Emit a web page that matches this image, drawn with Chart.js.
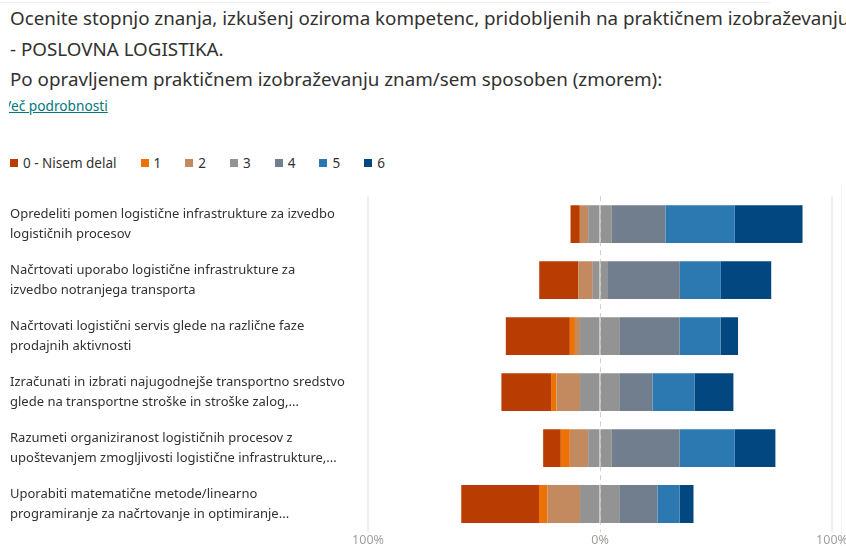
<!DOCTYPE html>
<html>
<head>
<meta charset="utf-8">
<script src="https://cdn.jsdelivr.net/npm/chart.js@4.4.1/dist/chart.umd.min.js"></script>
<style>
  html, body { margin: 0; padding: 0; width: 846px; height: 546px; overflow: hidden; background: #fff;
    font-family: "Noto Sans", sans-serif; color: #323130; }
  #topline { position: absolute; left: 0; top: 2px; width: 770px; height: 1px; background: #f0f0f0; }
  #title { position: absolute; left: 10px; top: 3px; white-space: nowrap; font-size: 18.8px; line-height: 30.5px; }
  #moreclip { position: absolute; left: 9px; top: 96px; width: 200px; height: 22px; overflow: hidden; }
  #more { position: absolute; left: -6px; top: 1px; font-size: 13.7px; line-height: 18px; color: #03787c;
    text-decoration: underline; white-space: nowrap; }
  #legend { position: absolute; left: 10px; top: 153px; display: flex; font-size: 13.5px; line-height: 20px; white-space: nowrap; }
  #legend .item { display: flex; align-items: center; margin-right: 24px; }
  #legend .sq { width: 8px; height: 8px; margin-right: 5px; }
  #edge { position: absolute; left: 841px; top: 185px; width: 1px; height: 361px; background: #f2f2f2; }
  #wrap { position: absolute; left: 0; top: 176px; width: 880px; height: 379px; }
</style>
</head>
<body>
<div id="topline"></div>
<div id="title">Ocenite stopnjo znanja, izkušenj oziroma kompetenc, pridobljenih na praktičnem izobraževanju<br>- POSLOVNA LOGISTIKA.<br>Po opravljenem praktičnem izobraževanju znam/sem sposoben (zmorem):</div>
<div id="moreclip"><div id="more">Več podrobnosti</div></div>
<div id="legend"></div>
<div id="edge"></div>
<div id="wrap"><canvas id="chart"></canvas></div>
<script>
// Categories (statements) and answer levels
const categories = [
  ["Opredeliti pomen logistične infrastrukture za izvedbo", "logističnih procesov"],
  ["Načrtovati uporabo logistične infrastrukture za", "izvedbo notranjega transporta"],
  ["Načrtovati logistični servis glede na različne faze", "prodajnih aktivnosti"],
  ["Izračunati in izbrati najugodnejše transportno sredstvo", "glede na transportne stroške in stroške zalog,..."],
  ["Razumeti organiziranost logističnih procesov z", "upoštevanjem zmogljivosti logistične infrastrukture,..."],
  ["Uporabiti matematične metode/linearno", "programiranje za načrtovanje in optimiranje..."],
];
const levels = ["0 - Nisem delal", "1", "2", "3", "4", "5", "6"];
const colors = ["#b93c02", "#ec7206", "#c3895f", "#939393", "#707e8d", "#2c79b1", "#02477f"];

// share of answers per level (%), one value per statement
const lvl0 = [4.0, 16.9, 27.6, 21.4, 7.6, 33.5];
const lvl1 = [0, 0, 2.2, 2.3, 3.9, 3.6];
const lvl2 = [3.6, 6.2, 2.2, 10.2, 7.9, 14.1];
const lvl3 = [10.2, 6.2, 17.2, 17.2, 10.2, 17.2];
const lvl4 = [23.1, 31.3, 25.7, 14.1, 29.2, 16.2];
const lvl5 = [29.9, 17.7, 17.7, 18.0, 23.8, 9.5];
const lvl6 = [29.2, 21.7, 7.5, 16.8, 17.5, 6.0];

const xTicks = [-100, 0, 100];

// legend
document.getElementById("legend").innerHTML = levels.map((l, i) =>
  `<span class="item"><span class="sq" style="background:${colors[i]}"></span>${l}</span>`).join("");

const neg = (a) => a.map((v) => -v);
const half = (a, s) => a.map((v) => s * v / 2);
const ds = (label, data, color) => ({ label, data, backgroundColor: color, borderWidth: 0,
  barPercentage: 0.675, categoryPercentage: 1 });

// negatives stack outward from zero, so neutral half goes first
const datasets = [
  ds("3", half(lvl3, -1), colors[3]),
  ds("2", neg(lvl2), colors[2]),
  ds("1", neg(lvl1), colors[1]),
  ds("0 - Nisem delal", neg(lvl0), colors[0]),
  ds("3", half(lvl3, 1), colors[3]),
  ds("4", lvl4, colors[4]),
  ds("5", lvl5, colors[5]),
  ds("6", lvl6, colors[6]),
];

new Chart(document.getElementById("chart"), {
  type: "bar",
  data: { labels: categories, datasets },
  options: {
    indexAxis: "y",
    animation: false,
    responsive: true,
    maintainAspectRatio: false,
    layout: { padding: { left: 10, right: 48, top: 9, bottom: 6 } },
    plugins: { legend: { display: false }, tooltip: { enabled: false } },
    scales: {
      x: {
        type: "linear", stacked: true, min: -100, max: 100,
        afterBuildTicks: (s) => { s.ticks = xTicks.map((v) => ({ value: v })); },
        grid: {
          z: 1, drawTicks: false,
          color: (c) => (c.tick && c.tick.value === 0 ? "rgba(177,177,177,0.6)" : "#eeeeee"),
          lineWidth: (c) => (c.tick && c.tick.value === 0 ? 1 : 2),
        },
        border: { display: false, dash: (c) => (c.tick && c.tick.value === 0 ? [5, 4] : []) },
        ticks: { padding: 1, color: "#a19f9d", font: { family: "Noto Sans", size: 12.5 },
          callback: (v) => Math.abs(v) + "%" },
      },
      y: {
        stacked: true,
        grid: { display: false },
        border: { display: false },
        afterFit: (s) => { s.width = 358; },
        ticks: { crossAlign: "far", padding: 0, color: "#323130",
          font: { family: "Noto Sans", size: 13, lineHeight: 1.55 } },
      },
    },
  },
});
</script>
</body>
</html>
